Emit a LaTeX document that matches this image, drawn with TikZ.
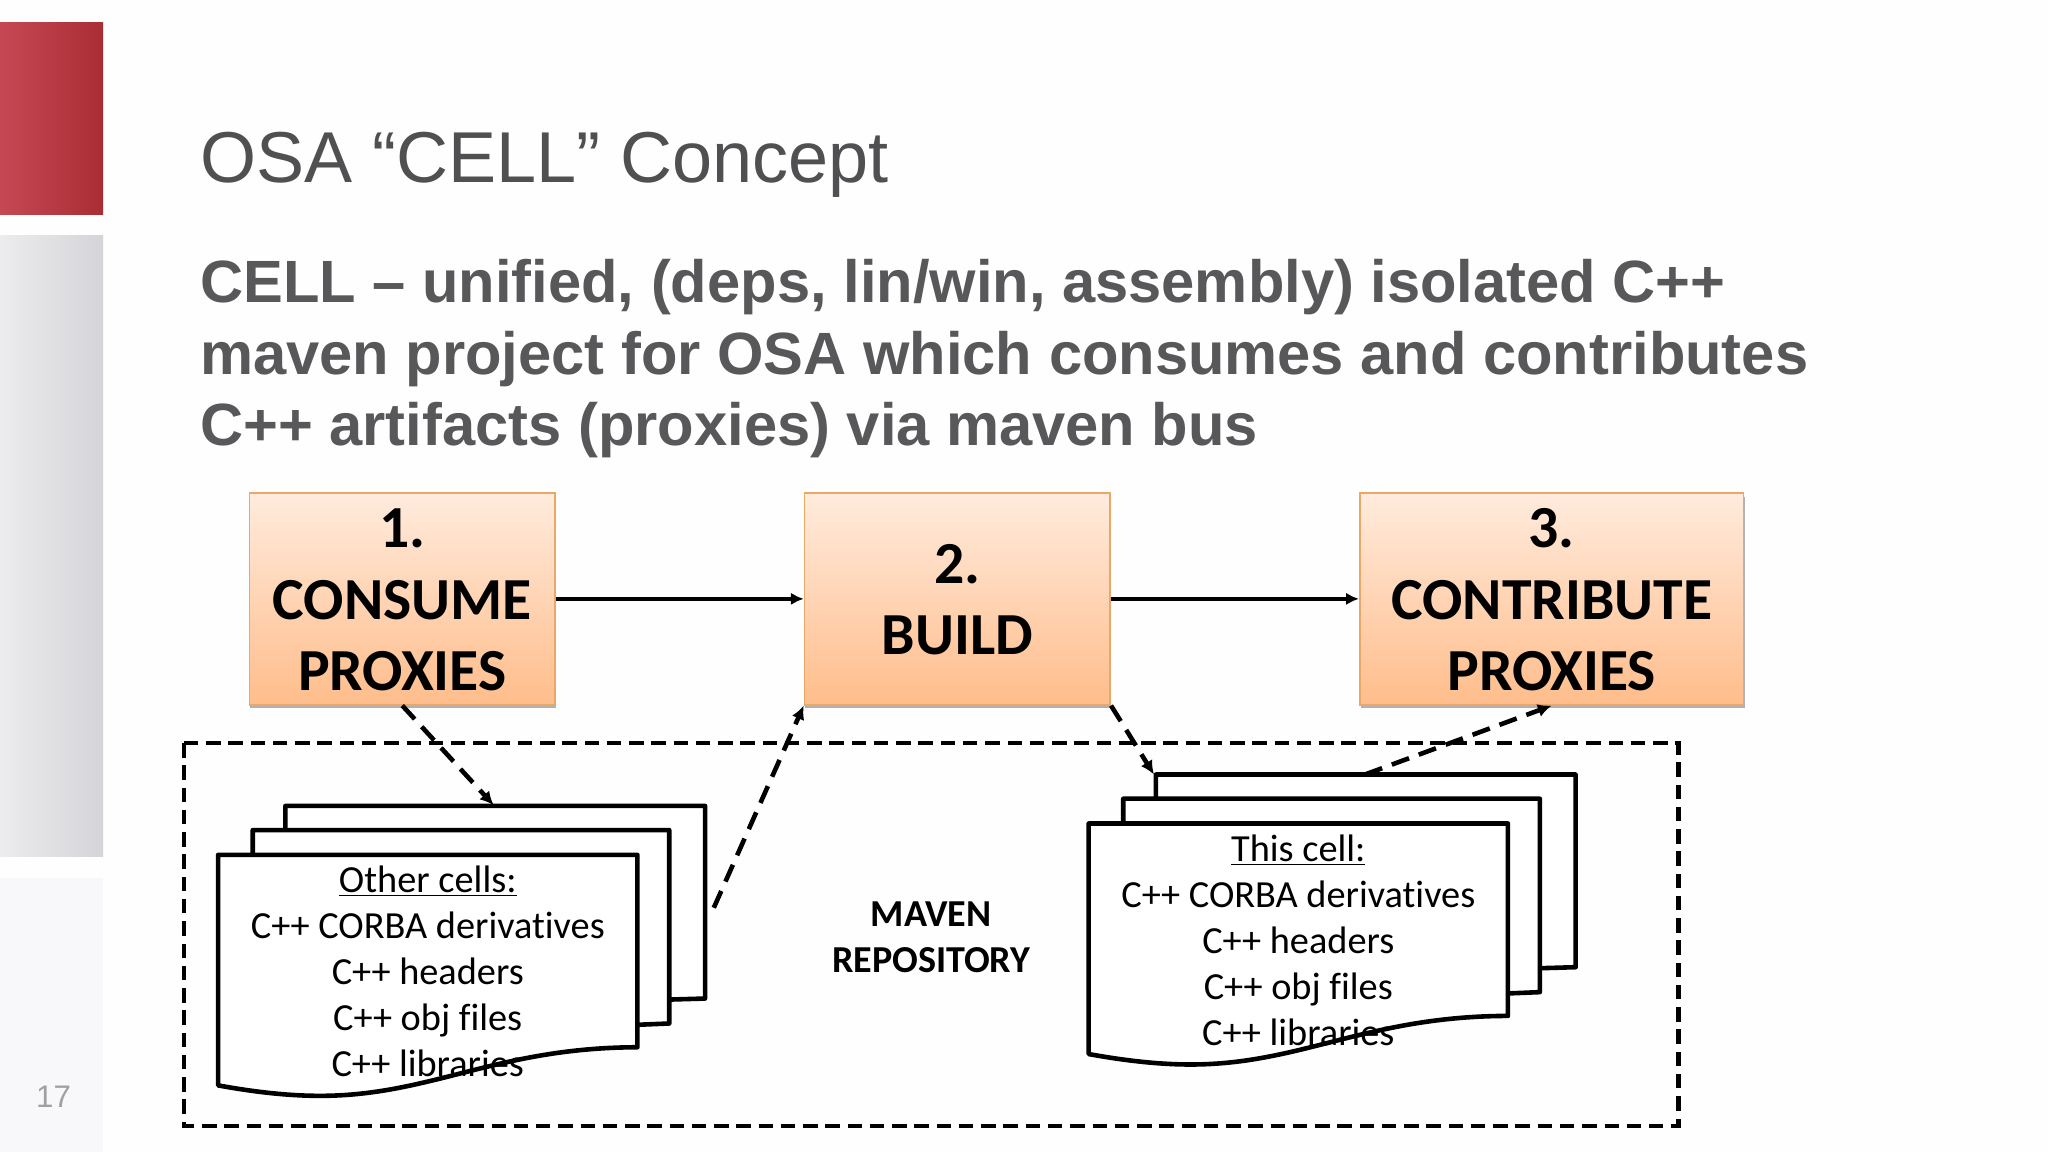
\documentclass[tikz,border=0pt]{standalone}
\usepackage{fontspec}
\setmainfont{Liberation Sans}
\newfontfamily\carl[Ligatures={NoCommon}]{Carlito}
\usetikzlibrary{arrows.meta,shadows}
\definecolor{slidegray}{HTML}{58585A}
\definecolor{titlegray}{HTML}{505052}
\definecolor{boxedge}{HTML}{E9A768}
\definecolor{boxtop}{HTML}{FFEBDD}
\definecolor{boxbot}{HTML}{FFBD8B}
\definecolor{redA}{RGB}{198,72,84}
\definecolor{redB}{RGB}{190,44,60}
\definecolor{redC}{RGB}{170,44,52}
\definecolor{greyA}{RGB}{236,236,238}
\definecolor{greyB}{RGB}{213,213,217}
\definecolor{paleC}{RGB}{248,247,250}
\definecolor{numgray}{RGB}{160,160,162}
\definecolor{pagebg}{RGB}{254,254,254}
\tikzset{
  x=0.02cm,y=-0.02cm,
  stepbox/.style={draw=boxedge,line width=0.7pt,top color=boxtop,bottom color=boxbot,
    minimum height=92.3pt,inner sep=0pt,align=center,text=black,
    font=\carl\bfseries\fontsize{26}{31.3}\selectfont,
    drop shadow={shadow xshift=0.4pt,shadow yshift=-1.6pt,opacity=.3,fill=black}},
  flow/.style={line width=1.9pt,-{Latex[length=5.6pt,width=5.4pt]}},
  dflow/.style={line width=2pt,dash pattern=on 8pt off 4.5pt,-{Latex[length=6pt,width=5.8pt]}},
  docline/.style={draw=black,fill=white,line width=2pt,line join=round},
  doctext/.style={font=\carl\fontsize{16.7}{20.1}\selectfont,align=center,text=black,inner sep=0pt,anchor=north},
}
\newcommand{\docstack}[2]{%
  \begin{scope}[shift={(#1,#2)}]
    \draw[docline] (218.5,617) -- (539.8,617) -- (539.8,764.5) -- (488,766) -- (218.5,766) -- cycle;
    \draw[docline] (193.5,635.5) -- (512.4,635.5) -- (512.4,783.6) -- (488,784.6) -- (193.5,784.6) -- cycle;
    \draw[docline] (167,654.5) -- (488,654.5) -- (488,801.8)
      .. controls (380,802) and (330,839) .. (245,839)
      .. controls (225,839) and (200,837) .. (167,831) -- cycle;
  \end{scope}}
\begin{document}
\begin{tikzpicture}
\useasboundingbox (0,0) rectangle (1568,882);
\fill[pagebg] (0,0) rectangle (1568,882);
% side bars
\shade[left color=redA,middle color=redB,right color=redC] (0,17) rectangle (79,164);
\shade[left color=greyA,right color=greyB] (0,180) rectangle (79,656);
\fill[paleC] (0,672) rectangle (79,882);
\node[font=\fontsize{13.6}{16}\selectfont,text=numgray,inner sep=0pt] (pageno) at (41,840) {17};
% heading
\node[anchor=base west,inner sep=0pt,text=titlegray,font=\fontsize{31.4}{36}\selectfont] (title) at (153,140) {OSA “CELL” Concept};
\node[anchor=north west,inner sep=0pt,align=left,text=slidegray,font=\bfseries\fontsize{26}{31.3}\selectfont] (lead) at (153,198)
  {CELL – unified, (deps, lin/win, assembly) isolated C++\\
   maven project for OSA which consumes and contributes\\
   C++ artifacts (proxies) via maven bus};
% steps
\node[stepbox,minimum width=133.2pt] (consume) at (308,458.5) {\rule{0pt}{17.8pt}1.\\CONSUME\\PROXIES};
\node[stepbox,minimum width=133.2pt] (build) at (733,458.5) {\rule{0pt}{17.8pt}2.\\BUILD};
\node[stepbox,minimum width=167.3pt] (contribute) at (1188,458.5) {\rule{0pt}{17.8pt}3.\\CONTRIBUTE\\PROXIES};
% repository
\draw[line width=2pt,dash pattern=on 6.3pt off 3.4pt] (141,569) rectangle (1285,862);
\docstack{0}{0}
\docstack{666.5}{-24}
\node[doctext] (othercells) at (327.5,662.5) {\underline{Other cells:}\\C++ CORBA derivatives\\C++ headers\\C++ obj files\\C++ libraries};
\node[doctext] (thiscell) at (994,638.5) {\underline{This cell:}\\C++ CORBA derivatives\\C++ headers\\C++ obj files\\C++ libraries};
\node[inner sep=0pt,align=center,font=\carl\bfseries\fontsize{16.6}{20.1}\selectfont] (maven) at (713,717.5) {MAVEN\\REPOSITORY};
% connector ends on the document stacks
\coordinate (othertop) at (378,616.5);
\coordinate (otherside) at (546.5,695);
\coordinate (thiscorner) at (883.5,593);
\coordinate (thistop) at (1045,593);
\draw[flow] (consume.east) -- (build.west);
\draw[flow] (build.east) -- (contribute.west);
\draw[dflow] (consume.south) -- (othertop);
\draw[dflow] (otherside) -- (build.south west);
\draw[dflow] (build.south east) -- (thiscorner);
\draw[dflow] (thistop) -- (contribute.south);
\end{tikzpicture}
\end{document}
